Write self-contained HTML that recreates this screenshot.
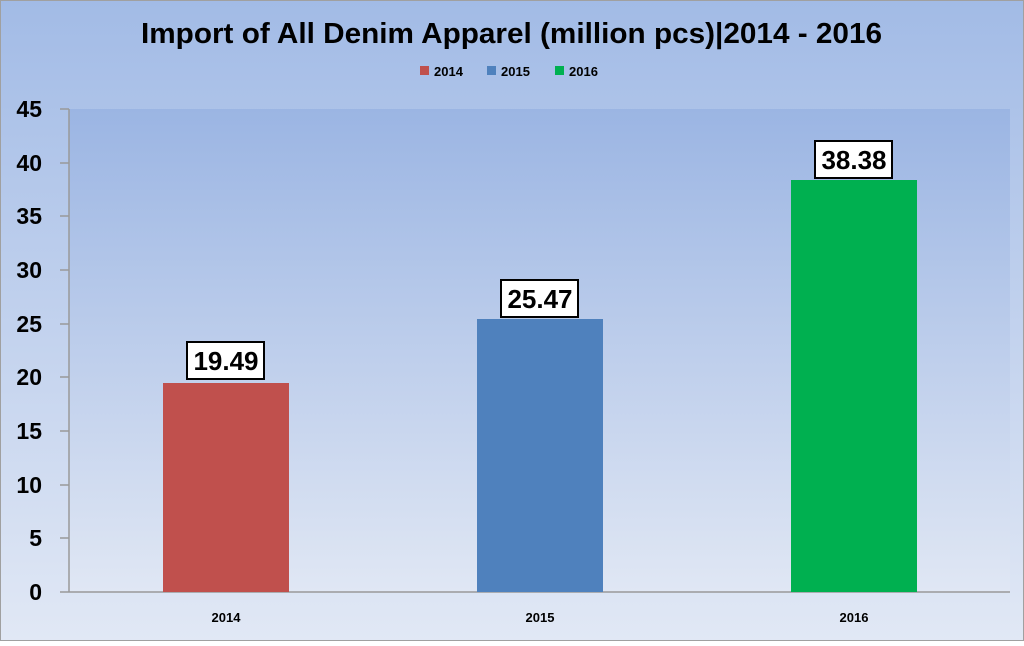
<!DOCTYPE html>
<html><head><style>
body{margin:0;width:1024px;height:641px;overflow:hidden;font-family:"Liberation Sans",Arial,sans-serif}
</style></head><body>
<svg width="1024" height="641" xmlns="http://www.w3.org/2000/svg">
<defs>
<linearGradient id="bg" x1="0" y1="0" x2="0" y2="1"><stop offset="0" stop-color="#a2bbe6"/><stop offset="1" stop-color="#e1e8f5"/></linearGradient>
<linearGradient id="pl" x1="0" y1="0" x2="0" y2="1"><stop offset="0" stop-color="#9bb5e3"/><stop offset="1" stop-color="#e0e7f4"/></linearGradient>
</defs>
<rect x="0.5" y="0.5" width="1023" height="640" fill="url(#bg)" stroke="#a0a0a0"/>
<rect x="69" y="109" width="941" height="483" fill="url(#pl)"/>
<text x="141" y="43" textLength="741" lengthAdjust="spacingAndGlyphs" font-size="29" font-weight="bold" fill="#000">Import of All Denim Apparel (million pcs)|2014 - 2016</text>
<rect x="420" y="66" width="9" height="9" fill="#c0504d"/><text x="434" y="76" font-size="13" font-weight="bold">2014</text>
<rect x="487" y="66" width="9" height="9" fill="#4f81bd"/><text x="501" y="76" font-size="13" font-weight="bold">2015</text>
<rect x="555" y="66" width="9" height="9" fill="#00b050"/><text x="569" y="76" font-size="13" font-weight="bold">2016</text>
<g stroke="#999" stroke-width="1.5">
<line x1="69" y1="109" x2="69" y2="592"/><line x1="60" y1="592" x2="1010" y2="592"/>
<line x1="60" y1="109" x2="69" y2="109"/><line x1="60" y1="163" x2="69" y2="163"/><line x1="60" y1="216" x2="69" y2="216"/><line x1="60" y1="270" x2="69" y2="270"/><line x1="60" y1="324" x2="69" y2="324"/><line x1="60" y1="377" x2="69" y2="377"/><line x1="60" y1="431" x2="69" y2="431"/><line x1="60" y1="485" x2="69" y2="485"/><line x1="60" y1="538" x2="69" y2="538"/>
</g>
<g font-size="23" font-weight="bold" text-anchor="end">
<text x="42" y="600">0</text><text x="42" y="546">5</text><text x="42" y="493">10</text><text x="42" y="439">15</text><text x="42" y="385">20</text><text x="42" y="332">25</text><text x="42" y="278">30</text><text x="42" y="224">35</text><text x="42" y="171">40</text><text x="42" y="117">45</text>
</g>
<rect x="163" y="383" width="126" height="209" fill="#c0504d"/>
<rect x="477" y="319" width="126" height="273" fill="#4f81bd"/>
<rect x="791" y="180" width="126" height="412" fill="#00b050"/>
<g font-size="13" font-weight="bold" text-anchor="middle">
<text x="226" y="622">2014</text><text x="540" y="622">2015</text><text x="854" y="622">2016</text>
</g>
<g stroke="#000" stroke-width="2" fill="#fff">
<rect x="187" y="342" width="77" height="37"/><rect x="501" y="280" width="77" height="37"/><rect x="815" y="141" width="77" height="37"/>
</g>
<g font-size="26" font-weight="bold" text-anchor="middle">
<text x="226" y="370">19.49</text><text x="540" y="308">25.47</text><text x="854" y="169">38.38</text>
</g>
</svg>
</body></html>
